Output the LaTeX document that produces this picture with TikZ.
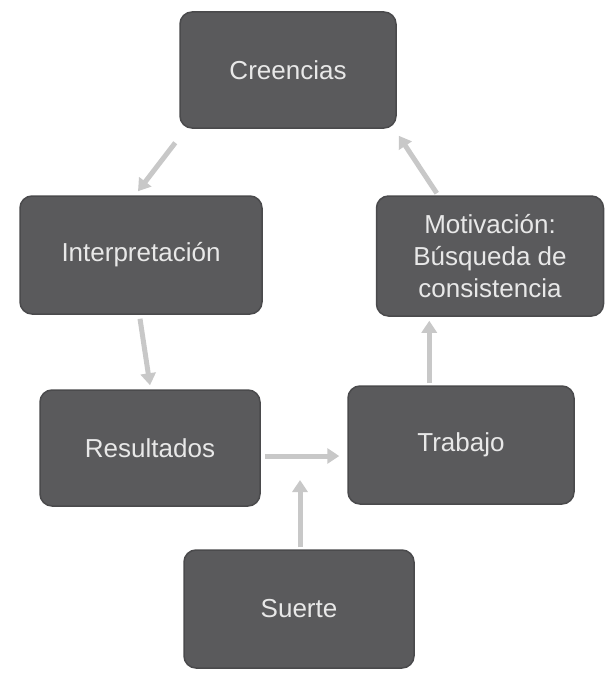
\documentclass[tikz,border=0pt]{standalone}
\usepackage{fontspec}
\setmainfont{Liberation Sans}
\usetikzlibrary{arrows.meta,calc}
\definecolor{boxfill}{HTML}{5A5A5C}
\definecolor{boxline}{HTML}{4A4A4C}
\definecolor{arr}{HTML}{C8C8C8}
\definecolor{txt}{HTML}{E8E8E8}
\begin{document}
\begin{tikzpicture}[x=1pt,y=-1pt,
  stepbox/.style={draw=boxline,line width=1.5pt,fill=boxfill,rounded corners=12pt,
    text=txt,font=\fontsize{26}{32}\selectfont,align=center,inner sep=0pt},
  conn/.style={draw=arr,line width=5pt,-{Triangle[length=12pt,width=15pt]}}]
\useasboundingbox (0,0) rectangle (606,674);
\node[stepbox,minimum width=216pt,minimum height=116pt] (cre) at (288,70) {Creencias};
\node[stepbox,minimum width=227pt,minimum height=120pt] (mot) at (490,256) {Motivación:\\Búsqueda de\\consistencia};
\node[stepbox,minimum width=242pt,minimum height=118pt] (int) at (141,255) {Interpretación};
\node[stepbox,minimum width=220pt,minimum height=116pt] (res) at (150,448) {Resultados};
\node[stepbox,minimum width=226pt,minimum height=118pt] (tra) at (461,445) {Trabajo};
\node[stepbox,minimum width=230pt,minimum height=118pt] (sue) at (299,609) {Suerte};
\coordinate (hit) at (300,480);
\draw[conn] ($(mot.north west)+(61,-2)$) -- ($(cre.south east)+(2,7)$);
\draw[conn] ($(tra.north west)+(82,-2)$) -- ($(mot.south west)+(53.5,4)$);
\draw[conn] ($(res.east)+(4,8)$) -- ($(tra.west)+(-8,11)$);
\draw[conn] ($(sue.north)+(1,-2)$) -- (hit);
\draw[conn] ($(cre.south west)+(-4,14)$) -- ($(int.north)+(-3,-4)$);
\draw[conn] ($(int.south)+(-1,4)$) -- ($(res.north)+(0,-4)$);
\end{tikzpicture}
\end{document}
